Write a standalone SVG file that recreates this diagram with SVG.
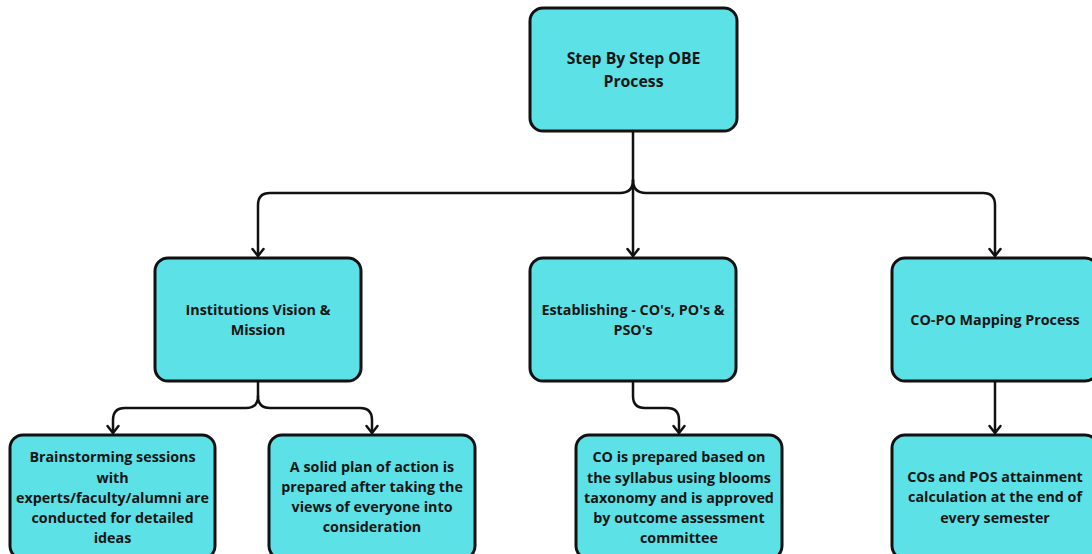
<svg xmlns="http://www.w3.org/2000/svg" width="1092" height="554" viewBox="0 0 1092 554">
<style>
.box{fill:#5ce1e6;stroke:#111;stroke-width:3}
.t{font-family:"Open Sans","Liberation Sans",sans-serif;font-weight:bold;font-size:14.3px;fill:#151515;text-anchor:middle}
.tl{font-size:15.8px}
.c{fill:none;stroke:#111;stroke-width:2.5;stroke-linecap:round;stroke-linejoin:round}
</style>
<defs>
<marker id="ah" markerUnits="userSpaceOnUse" viewBox="-12 -8 14 16" refX="0" refY="0" markerWidth="14" markerHeight="16" orient="auto">
<path d="M-7,-5.5 L0,0 L-7,5.5" fill="none" stroke="#111" stroke-width="2.5" stroke-linecap="round" stroke-linejoin="round"/>
</marker>
</defs>
<rect width="1092" height="554" fill="#fff"/>
<g id="connectors">
<path class="c" d="M633,131 V256" marker-end="url(#ah)"/>
<path class="c" d="M633,180 Q633,193 620,193 H270 Q258,193 258,205 V256" marker-end="url(#ah)"/>
<path class="c" d="M633,180 Q633,193 646,193 H983 Q995,193 995,205 V256" marker-end="url(#ah)"/>
<path class="c" d="M258,381 V396 Q258,408 246,408 H125 Q113,408 113,420 V433" marker-end="url(#ah)"/>
<path class="c" d="M258,396 Q258,408 270,408 H360 Q372,408 372,420 V433" marker-end="url(#ah)"/>
<path class="c" d="M633,381 V396 Q633,408 645,408 H667 Q679,408 679,420 V433" marker-end="url(#ah)"/>
<path class="c" d="M995,381 V433" marker-end="url(#ah)"/>
</g>
<g id="n-root">
<rect class="box" x="530" y="8" width="207" height="123" rx="13"/>
<text class="t tl" x="633.5" y="64">Step By Step OBE</text>
<text class="t tl" x="633.5" y="87">Process</text>
</g>
<g id="n-vision">
<rect class="box" x="155" y="258" width="206" height="123" rx="13"/>
<text class="t" x="258" y="315">Institutions Vision &amp;</text>
<text class="t" x="258" y="335">Mission</text>
</g>
<g id="n-establish">
<rect class="box" x="530" y="258" width="206" height="123" rx="13"/>
<text class="t" x="633" y="315">Establishing - CO's, PO's &amp;</text>
<text class="t" x="633" y="335">PSO's</text>
</g>
<g id="n-mapping">
<rect class="box" x="892" y="258" width="206" height="123" rx="13"/>
<text class="t" x="995" y="325">CO-PO Mapping Process</text>
</g>
<g id="n-brainstorm">
<rect class="box" x="10" y="435" width="205" height="124" rx="13"/>
<text class="t" x="112.5" y="462">Brainstorming sessions</text>
<text class="t" x="112.5" y="483">with</text>
<text class="t" x="112.5" y="503">experts/faculty/alumni are</text>
<text class="t" x="112.5" y="523">conducted for detailed</text>
<text class="t" x="112.5" y="543">ideas</text>
</g>
<g id="n-plan">
<rect class="box" x="269" y="435" width="206" height="124" rx="13"/>
<text class="t" x="372" y="472">A solid plan of action is</text>
<text class="t" x="372" y="492">prepared after taking the</text>
<text class="t" x="372" y="512">views of everyone into</text>
<text class="t" x="372" y="532">consideration</text>
</g>
<g id="n-co">
<rect class="box" x="576" y="435" width="206" height="124" rx="13"/>
<text class="t" x="679" y="462">CO is prepared based on</text>
<text class="t" x="679" y="483">the syllabus using blooms</text>
<text class="t" x="679" y="503">taxonomy and is approved</text>
<text class="t" x="679" y="523">by outcome assessment</text>
<text class="t" x="679" y="543">committee</text>
</g>
<g id="n-attain">
<rect class="box" x="892" y="435" width="206" height="124" rx="13"/>
<text class="t" x="995" y="482">COs and POS attainment</text>
<text class="t" x="995" y="502">calculation at the end of</text>
<text class="t" x="995" y="523">every semester</text>
</g>
</svg>
